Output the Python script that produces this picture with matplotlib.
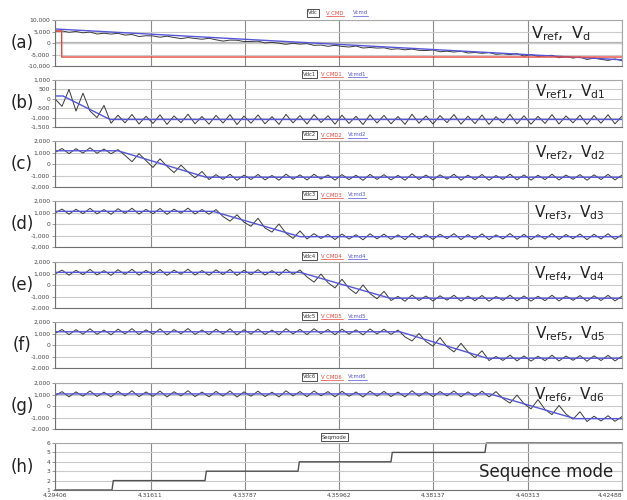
import numpy as np
import matplotlib
matplotlib.use('Agg')
import matplotlib.pyplot as plt
from matplotlib.lines import Line2D
from matplotlib.ticker import FuncFormatter

plt.rcParams['font.family'] = ['DejaVu Sans']
plt.rcParams['axes.unicode_minus'] = False
plt.rcParams['mathtext.default'] = 'regular'

# ──────────────────────────────────────────────────────────────────────────────
# Data
# ──────────────────────────────────────────────────────────────────────────────

T0, T1 = 4.29406, 4.42488
time_ticks = [4.29406, 4.31611, 4.33787, 4.35962, 4.38137, 4.40313, 4.42488]
time_labels = ['4.29406', '4.31611', '4.33787', '4.35962', '4.38137',
               '4.40313', '4.42488']

# total reference / measured voltage (a)
vcmd_t = [T0, T1]
vcmd_v = [6100, -7300]
vcmd_cmd_t = [T0, 4.29560, 4.29562, T1]
vcmd_cmd_v = [5200, 5200, -6100, -6100]
vdc_offset = [-900, -700, -1100, -600, -1000, -500, -1200, -700, -900, -400,
              -1000, -600, -1300, -800, -700, -1100, -500, -900, -1200, -600,
              -800, -1000, -400, -900, -1300, -700, -600, -1000, -800, -500,
              -1100, -700, -900, -1200, -600, -800, -400, -1000, -700, -1100,
              -500, -800, -900, -300, -1000, -600, -700, -400, -900, -500,
              -800, -300, -700, -600, -200, -800, -400, -600, -100, -700,
              -300, -500, 0, -600, -200, -400, 200, -700, 100, -500,
              -100, 300, -600, 0, -400, 200, -700, 100, -300, -600,
              200, -400]

# steady-state DC-link ripple shared by the module voltages
vdc_ripple = [-150, 200, -250, 180, -200, 260, -220, 150, -260, 230,
              -180, 270, -240, 170, -210, 250, -260, 190, -170, 280,
              -230, 160, -250, 220, -190, 260, -270, 180, -200, 240,
              -230, 150, -260, 270, -180, 210, -240, 260, -160, 200,
              -250, 230, -210, 170, -270, 250, -190, 220, -230, 160,
              -260, 280, -200, 190, -240, 210, -170, 260, -250, 180,
              -220, 240, -260, 150, -190, 270, -230, 200, -250, 170,
              -210, 260, -240, 190, -180, 230, -260, 210, -200, 250,
              -230, 180]

# module commands (knot times / values)
vcmd1_t = [T0, 4.29591, 4.30675, T1]
vcmd1_v = [150, 150, -1100, -1100]
vcmd2_t = [T0, 4.30860, 4.32890, T1]
vcmd2_v = [1150, 1150, -1150, -1150]
vcmd3_t = [T0, 4.33051, 4.35059, T1]
vcmd3_v = [1100, 1100, -1100, -1100]
vcmd4_t = [T0, 4.35059, 4.37135, T1]
vcmd4_v = [1100, 1100, -1150, -1150]
vcmd5_t = [T0, 4.37366, 4.39373, T1]
vcmd5_v = [1150, 1150, -1150, -1150]
vcmd6_t = [T0, 4.39442, 4.41403, T1]
vcmd6_v = [1050, 1050, -1100, -1100]

# measured module voltage while the module ramps (start sample, values)
vdc1_start = 0
vdc1_ramp = [0, -400, 500, -650, 300, -650, -1000, -350, -1300]
vdc2_start = 9
vdc2_ramp = [1250, 750, 200, 900, 300, -300, 450, -200, -750, -100, -700,
             -1200, -650, -1350]
vdc3_start = 23
vdc3_ramp = [1250, 650, 250, 800, 150, -200, 500, -350, -700, 0, -800,
             -1250, -600, -1300]
vdc4_start = 35
vdc4_ramp = [1300, 700, 250, 950, 200, -250, 500, -300, -750, 0, -750,
             -1200, -550, -1350]
vdc5_start = 49
vdc5_ramp = [1300, 700, 350, 1000, 300, -100, 650, -150, -600, 150, -600,
             -1100, -500, -1350]
vdc6_start = 63
vdc6_ramp = [1250, 650, 250, 950, 200, -250, 550, -300, -750, 50, -700,
             -1150, -500, -1350]

# sequence mode
seq_step_t = [4.30721, 4.32867, 4.35013, 4.37158, 4.39327]
seq_levels = [1, 2, 3, 4, 5, 6]

# ──────────────────────────────────────────────────────────────────────────────
# Helpers
# ──────────────────────────────────────────────────────────────────────────────

C_VDC = '#3a3a3a'
C_CMD = '#e8463c'
C_REF = '#5555d8'
W, H = 627, 500

t_grid = np.linspace(T0, T1, len(vdc_ripple))
underlined = []


def module_vdc(cmd_t, cmd_v, start, ramp):
    v = np.interp(t_grid, cmd_t, cmd_v) + np.array(vdc_ripple)
    v[start:start + len(ramp)] = ramp
    return v


def style_axes(ax, ylim, yticks):
    ax.set_xlim(T0, T1)
    ax.set_ylim(*ylim)
    ax.set_yticks(yticks)
    ax.set_xticks(time_ticks)
    ax.grid(axis='x', color='#8a8a8a', lw=0.8)
    ax.grid(axis='y', color='#cacaca', lw=0.8)
    ax.set_axisbelow(True)
    for s in ax.spines.values():
        s.set_color('#a8a8a8')
        s.set_linewidth(0.8)
    ax.spines['left'].set_color('#707070')
    ax.spines['bottom'].set_color('#707070')
    ax.yaxis.set_major_formatter(FuncFormatter(lambda v, p: f'{v:,.0f}'))
    ax.tick_params(axis='y', labelsize=4.3, colors='#707070',
                   labelcolor='#444444', length=2, width=0.5, pad=1.5)
    ax.tick_params(axis='x', labelbottom=False, length=0)


def legend_row(fig, y_px, names, x0=303):
    y = 1 - y_px / H
    fig.text(x0 / W, y, names[0], fontsize=3.8, color='#333333',
             va='center', ha='left',
             bbox=dict(boxstyle='square,pad=0.2', fc='white', ec='#333333',
                       lw=0.6))
    if len(names) > 1:
        underlined.append(fig.text((x0 + 18) / W, y, names[1], fontsize=3.8,
                                   color=C_CMD, va='center', ha='left'))
        underlined.append(fig.text((x0 + 45) / W, y, names[2], fontsize=3.8,
                                   color=C_REF, va='center', ha='left'))


# ──────────────────────────────────────────────────────────────────────────────
# Figure
# ──────────────────────────────────────────────────────────────────────────────

fig = plt.figure(figsize=(W / 100, H / 100), dpi=100, facecolor='white')

tops = [20, 80, 141, 201, 262, 322, 383, 443]
bots = [66, 127, 187, 247, 308, 368, 429, 490]
axes = []
for top, bot in zip(tops, bots):
    axes.append(fig.add_axes([55 / W, 1 - bot / H, 567 / W, (bot - top) / H]))

letters = ['(a)', '(b)', '(c)', '(d)', '(e)', '(f)', '(g)', '(h)']
for lab, top, bot in zip(letters, tops, bots):
    fig.text(22 / W, 1 - (top + bot) / 2 / H, lab, fontsize=12,
             ha='center', va='center', color='#222222')

# (a) total
ax = axes[0]
style_axes(ax, (-10000, 10000), [10000, 5000, 0, -5000, -10000])
ax.axhline(0, color='#b4b4b4', lw=1.6, zorder=0.5)
ax.plot(t_grid, np.interp(t_grid, vcmd_t, vcmd_v) + np.array(vdc_offset),
        color=C_VDC, lw=0.7)
ax.plot(vcmd_t, vcmd_v, color=C_REF, lw=1.0)
ax.plot(vcmd_cmd_t, vcmd_cmd_v, color=C_CMD, lw=1.0)
ax.text(0.945, 0.9, r'$V_{ref},\ V_d$', transform=ax.transAxes,
        ha='right', va='top', fontsize=11.5, color='#222222')
legend_row(fig, 13, ['Vdc', 'V_CMD', 'Vcmd'], x0=308)

# (b)-(g) modules
modules = [
    (vcmd1_t, vcmd1_v, vdc1_start, vdc1_ramp),
    (vcmd2_t, vcmd2_v, vdc2_start, vdc2_ramp),
    (vcmd3_t, vcmd3_v, vdc3_start, vdc3_ramp),
    (vcmd4_t, vcmd4_v, vdc4_start, vdc4_ramp),
    (vcmd5_t, vcmd5_v, vdc5_start, vdc5_ramp),
    (vcmd6_t, vcmd6_v, vdc6_start, vdc6_ramp),
]
for i, (ct, cv, st, rp) in enumerate(modules):
    n = i + 1
    ax = axes[n]
    if n == 1:
        style_axes(ax, (-1500, 1000), [1000, 500, 0, -500, -1000, -1500])
    else:
        style_axes(ax, (-2000, 2000), [2000, 1000, 0, -1000, -2000])
    ax.plot(t_grid, module_vdc(ct, cv, st, rp), color=C_VDC, lw=0.7)
    ax.plot(ct, cv, color=C_REF, lw=1.0)
    ax.text(0.97, 0.95, r'$V_{ref%d},\ V_{d%d}$' % (n, n),
            transform=ax.transAxes, ha='right', va='top', fontsize=11,
            color='#222222')
    legend_row(fig, tops[n] - 6,
               ['Vdc%d' % n, 'V_CMD%d' % n, 'Vcmd%d' % n])

# (h) sequence mode
ax = axes[7]
style_axes(ax, (1, 6), [6, 5, 4, 3, 2, 1])
ax.yaxis.set_major_formatter(FuncFormatter(lambda v, p: f'{v:.0f}'))
seq_t, seq_v = [T0], [seq_levels[0]]
for ts, lo, hi in zip(seq_step_t, seq_levels[:-1], seq_levels[1:]):
    seq_t += [ts, ts + 0.0003]
    seq_v += [lo, hi]
seq_t.append(T1)
seq_v.append(seq_levels[-1])
ax.plot(seq_t, seq_v, color='#505050', lw=1.0, clip_on=False)
ax.text(0.985, 0.38, 'Sequence mode', transform=ax.transAxes,
        ha='right', va='center', fontsize=12, color='#222222')
ax.tick_params(axis='x', labelbottom=True, labelsize=4.3,
               labelcolor='#444444', pad=2)
ax.set_xticklabels(time_labels)
ax.get_xticklabels()[-1].set_ha('right')

legend_row(fig, 437, ['Seqmode'], x0=322)

# underline the command legend entries
renderer = fig.canvas.get_renderer()
inv = fig.transFigure.inverted()
for t in underlined:
    bb = t.get_window_extent(renderer)
    (x0, y0), (x1, _) = inv.transform([(bb.x0, bb.y0), (bb.x1, bb.y0)])
    fig.add_artist(Line2D([x0, x1], [y0, y0], color=t.get_color(), lw=0.5,
                          transform=fig.transFigure))

fig.savefig('out.png', dpi=100, facecolor='white')
